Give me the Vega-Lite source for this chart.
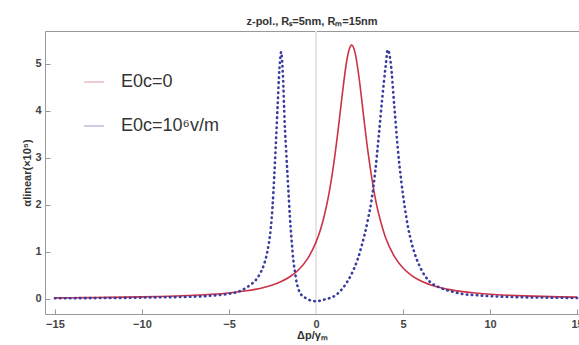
{
  "$schema": "https://vega.github.io/schema/vega-lite/v6.json",
  "width": 534,
  "height": 283,
  "autosize": {"type": "none"},
  "padding": {"left": 45, "top": 31, "right": 0, "bottom": 31},
  "background": "white",
  "title": {"text": "z-pol., Rₛ=5nm, Rₘ=15nm", "fontSize": 11, "font": "Liberation Sans", "fontWeight": "bold", "color": "#333", "offset": 4, "anchor": "middle"},
  "config": {
    "view": {"stroke": "#999", "strokeWidth": 1},
    "font": "Liberation Sans",
    "axis": {"domain": false, "grid": false, "labelFont": "Liberation Sans", "labelFontSize": 11, "labelFontWeight": "bold", "labelColor": "#444", "tickColor": "#999", "titleFont": "Liberation Sans", "titleFontWeight": "bold", "titleColor": "#333", "titleFontSize": 11},
    "legend": {"symbolDash": [1, 0]}
  },
  "data": {"values": [
    {"x": -15, "y": 0.022, "s": "E0c=0"}, {"x": -14, "y": 0.025, "s": "E0c=0"}, {"x": -13, "y": 0.029, "s": "E0c=0"}, {"x": -12, "y": 0.033, "s": "E0c=0"}, {"x": -11, "y": 0.038, "s": "E0c=0"}, {"x": -10, "y": 0.045, "s": "E0c=0"}, {"x": -9, "y": 0.053, "s": "E0c=0"}, {"x": -8, "y": 0.064, "s": "E0c=0"}, {"x": -7, "y": 0.079, "s": "E0c=0"}, {"x": -6, "y": 0.099, "s": "E0c=0"}, {"x": -5, "y": 0.128, "s": "E0c=0"}, {"x": -4, "y": 0.173, "s": "E0c=0"}, {"x": -3.5, "y": 0.204, "s": "E0c=0"}, {"x": -3, "y": 0.244, "s": "E0c=0"}, {"x": -2.5, "y": 0.298, "s": "E0c=0"}, {"x": -2, "y": 0.371, "s": "E0c=0"}, {"x": -1.5, "y": 0.473, "s": "E0c=0"}, {"x": -1, "y": 0.621, "s": "E0c=0"}, {"x": -0.5, "y": 0.847, "s": "E0c=0"}, {"x": 0, "y": 1.208, "s": "E0c=0"}, {"x": 0.25, "y": 1.468, "s": "E0c=0"}, {"x": 0.5, "y": 1.808, "s": "E0c=0"}, {"x": 0.75, "y": 2.25, "s": "E0c=0"}, {"x": 1, "y": 2.826, "s": "E0c=0"}, {"x": 1.25, "y": 3.532, "s": "E0c=0"}, {"x": 1.5, "y": 4.32, "s": "E0c=0"}, {"x": 1.75, "y": 5.03, "s": "E0c=0"}, {"x": 1.9, "y": 5.3, "s": "E0c=0"}, {"x": 2.05, "y": 5.4, "s": "E0c=0"}, {"x": 2.25, "y": 5.23, "s": "E0c=0"}, {"x": 2.5, "y": 4.63, "s": "E0c=0"}, {"x": 2.75, "y": 3.84, "s": "E0c=0"}, {"x": 3, "y": 3.09, "s": "E0c=0"}, {"x": 3.25, "y": 2.47, "s": "E0c=0"}, {"x": 3.5, "y": 1.97, "s": "E0c=0"}, {"x": 3.75, "y": 1.6, "s": "E0c=0"}, {"x": 4, "y": 1.3, "s": "E0c=0"}, {"x": 4.5, "y": 0.906, "s": "E0c=0"}, {"x": 5, "y": 0.659, "s": "E0c=0"}, {"x": 5.5, "y": 0.498, "s": "E0c=0"}, {"x": 6, "y": 0.389, "s": "E0c=0"}, {"x": 7, "y": 0.254, "s": "E0c=0"}, {"x": 8, "y": 0.178, "s": "E0c=0"}, {"x": 9, "y": 0.132, "s": "E0c=0"}, {"x": 10, "y": 0.101, "s": "E0c=0"}, {"x": 11, "y": 0.08, "s": "E0c=0"}, {"x": 12, "y": 0.065, "s": "E0c=0"}, {"x": 13, "y": 0.054, "s": "E0c=0"}, {"x": 14, "y": 0.045, "s": "E0c=0"}, {"x": 15, "y": 0.039, "s": "E0c=0"},
    {"x": -15, "y": 0.015, "s": "E0c=10⁶v/m"}, {"x": -13, "y": 0.018, "s": "E0c=10⁶v/m"}, {"x": -11, "y": 0.022, "s": "E0c=10⁶v/m"}, {"x": -10, "y": 0.03, "s": "E0c=10⁶v/m"}, {"x": -9, "y": 0.035, "s": "E0c=10⁶v/m"}, {"x": -8, "y": 0.04, "s": "E0c=10⁶v/m"}, {"x": -7, "y": 0.05, "s": "E0c=10⁶v/m"}, {"x": -6, "y": 0.07, "s": "E0c=10⁶v/m"}, {"x": -5, "y": 0.11, "s": "E0c=10⁶v/m"}, {"x": -4.5, "y": 0.15, "s": "E0c=10⁶v/m"}, {"x": -4, "y": 0.24, "s": "E0c=10⁶v/m"}, {"x": -3.7, "y": 0.32, "s": "E0c=10⁶v/m"}, {"x": -3.4, "y": 0.43, "s": "E0c=10⁶v/m"}, {"x": -3.2, "y": 0.55, "s": "E0c=10⁶v/m"}, {"x": -3.0, "y": 0.72, "s": "E0c=10⁶v/m"}, {"x": -2.8, "y": 1.0, "s": "E0c=10⁶v/m"}, {"x": -2.6, "y": 1.5, "s": "E0c=10⁶v/m"}, {"x": -2.5, "y": 1.95, "s": "E0c=10⁶v/m"}, {"x": -2.4, "y": 2.6, "s": "E0c=10⁶v/m"}, {"x": -2.3, "y": 3.35, "s": "E0c=10⁶v/m"}, {"x": -2.2, "y": 4.15, "s": "E0c=10⁶v/m"}, {"x": -2.1, "y": 4.9, "s": "E0c=10⁶v/m"}, {"x": -2.0, "y": 5.25, "s": "E0c=10⁶v/m"}, {"x": -1.9, "y": 4.75, "s": "E0c=10⁶v/m"}, {"x": -1.8, "y": 3.75, "s": "E0c=10⁶v/m"}, {"x": -1.7, "y": 3.05, "s": "E0c=10⁶v/m"}, {"x": -1.6, "y": 2.4, "s": "E0c=10⁶v/m"}, {"x": -1.5, "y": 1.75, "s": "E0c=10⁶v/m"}, {"x": -1.4, "y": 1.25, "s": "E0c=10⁶v/m"}, {"x": -1.3, "y": 0.82, "s": "E0c=10⁶v/m"}, {"x": -1.2, "y": 0.55, "s": "E0c=10⁶v/m"}, {"x": -1.1, "y": 0.33, "s": "E0c=10⁶v/m"}, {"x": -1.0, "y": 0.2, "s": "E0c=10⁶v/m"}, {"x": -0.8, "y": 0.07, "s": "E0c=10⁶v/m"}, {"x": -0.6, "y": 0.02, "s": "E0c=10⁶v/m"}, {"x": -0.4, "y": -0.02, "s": "E0c=10⁶v/m"}, {"x": -0.2, "y": -0.04, "s": "E0c=10⁶v/m"}, {"x": 0, "y": -0.05, "s": "E0c=10⁶v/m"}, {"x": 0.2, "y": -0.04, "s": "E0c=10⁶v/m"}, {"x": 0.4, "y": -0.02, "s": "E0c=10⁶v/m"}, {"x": 0.6, "y": 0.0, "s": "E0c=10⁶v/m"}, {"x": 0.8, "y": 0.02, "s": "E0c=10⁶v/m"}, {"x": 1.0, "y": 0.05, "s": "E0c=10⁶v/m"}, {"x": 1.2, "y": 0.1, "s": "E0c=10⁶v/m"}, {"x": 1.4, "y": 0.17, "s": "E0c=10⁶v/m"}, {"x": 1.6, "y": 0.26, "s": "E0c=10⁶v/m"}, {"x": 1.8, "y": 0.37, "s": "E0c=10⁶v/m"}, {"x": 2.0, "y": 0.5, "s": "E0c=10⁶v/m"}, {"x": 2.2, "y": 0.66, "s": "E0c=10⁶v/m"}, {"x": 2.4, "y": 0.85, "s": "E0c=10⁶v/m"}, {"x": 2.6, "y": 1.1, "s": "E0c=10⁶v/m"}, {"x": 2.8, "y": 1.38, "s": "E0c=10⁶v/m"}, {"x": 3.0, "y": 1.72, "s": "E0c=10⁶v/m"}, {"x": 3.2, "y": 2.12, "s": "E0c=10⁶v/m"}, {"x": 3.4, "y": 2.7, "s": "E0c=10⁶v/m"}, {"x": 3.6, "y": 3.45, "s": "E0c=10⁶v/m"}, {"x": 3.8, "y": 4.25, "s": "E0c=10⁶v/m"}, {"x": 4.0, "y": 4.95, "s": "E0c=10⁶v/m"}, {"x": 4.12, "y": 5.3, "s": "E0c=10⁶v/m"}, {"x": 4.3, "y": 5.0, "s": "E0c=10⁶v/m"}, {"x": 4.5, "y": 4.1, "s": "E0c=10⁶v/m"}, {"x": 4.7, "y": 3.2, "s": "E0c=10⁶v/m"}, {"x": 4.9, "y": 2.5, "s": "E0c=10⁶v/m"}, {"x": 5.1, "y": 1.95, "s": "E0c=10⁶v/m"}, {"x": 5.3, "y": 1.5, "s": "E0c=10⁶v/m"}, {"x": 5.5, "y": 1.18, "s": "E0c=10⁶v/m"}, {"x": 5.75, "y": 0.88, "s": "E0c=10⁶v/m"}, {"x": 6.0, "y": 0.66, "s": "E0c=10⁶v/m"}, {"x": 6.5, "y": 0.38, "s": "E0c=10⁶v/m"}, {"x": 7, "y": 0.26, "s": "E0c=10⁶v/m"}, {"x": 7.5, "y": 0.19, "s": "E0c=10⁶v/m"}, {"x": 8, "y": 0.14, "s": "E0c=10⁶v/m"}, {"x": 8.5, "y": 0.1, "s": "E0c=10⁶v/m"}, {"x": 9, "y": 0.085, "s": "E0c=10⁶v/m"}, {"x": 10, "y": 0.06, "s": "E0c=10⁶v/m"}, {"x": 11, "y": 0.045, "s": "E0c=10⁶v/m"}, {"x": 12, "y": 0.035, "s": "E0c=10⁶v/m"}, {"x": 13, "y": 0.03, "s": "E0c=10⁶v/m"}, {"x": 14, "y": 0.025, "s": "E0c=10⁶v/m"}, {"x": 15, "y": 0.02, "s": "E0c=10⁶v/m"}
  ]},
  "encoding": {
    "x": {"field": "x", "type": "quantitative", "scale": {"domain": [-15.57, 15.11], "nice": false, "zero": false},
          "axis": {"values": [-15, -10, -5, 0, 5, 10, 15], "title": "Δp/γₘ", "tickSize": -5, "labelPadding": 9, "titlePadding": 0, "labelFlush": false}},
    "y": {"field": "y", "type": "quantitative", "scale": {"domain": [-0.32, 5.7], "nice": false, "zero": false},
          "axis": {"values": [0, 1, 2, 3, 4, 5], "title": "αlinear(×10⁵)", "tickSize": -5, "labelPadding": 9, "titlePadding": 2}},
    "color": {"field": "s", "type": "nominal", "scale": {"domain": ["E0c=0", "E0c=10⁶v/m"], "range": ["#cc3344", "#3a3ca0"]},
              "legend": {"title": null, "orient": "none", "legendX": 38, "legendY": 40, "labelFontSize": 18, "labelFont": "Liberation Sans", "labelColor": "#333", "symbolType": "stroke", "symbolSize": 400, "symbolStrokeWidth": 1.2, "symbolOpacity": 0.5, "symbolDash": [1, 0], "rowPadding": 24, "labelOffset": 16}}
  },
  "layer": [
    {
      "mark": {"type": "rule", "color": "#e4e4e4", "strokeWidth": 1},
      "encoding": {"x": {"datum": 0, "type": "quantitative"}, "y": null, "color": null}
    },
    {
      "transform": [{"filter": "datum.s === 'E0c=0'"}],
      "mark": {"type": "line", "interpolate": "monotone", "strokeWidth": 1.6, "clip": true}
    },
    {
      "transform": [{"filter": "datum.s !== 'E0c=0'"}],
      "mark": {"type": "line", "interpolate": "monotone", "strokeCap": "round", "strokeDash": [0.5, 4.5], "strokeWidth": 2.6, "clip": true}
    }
  ]
}
